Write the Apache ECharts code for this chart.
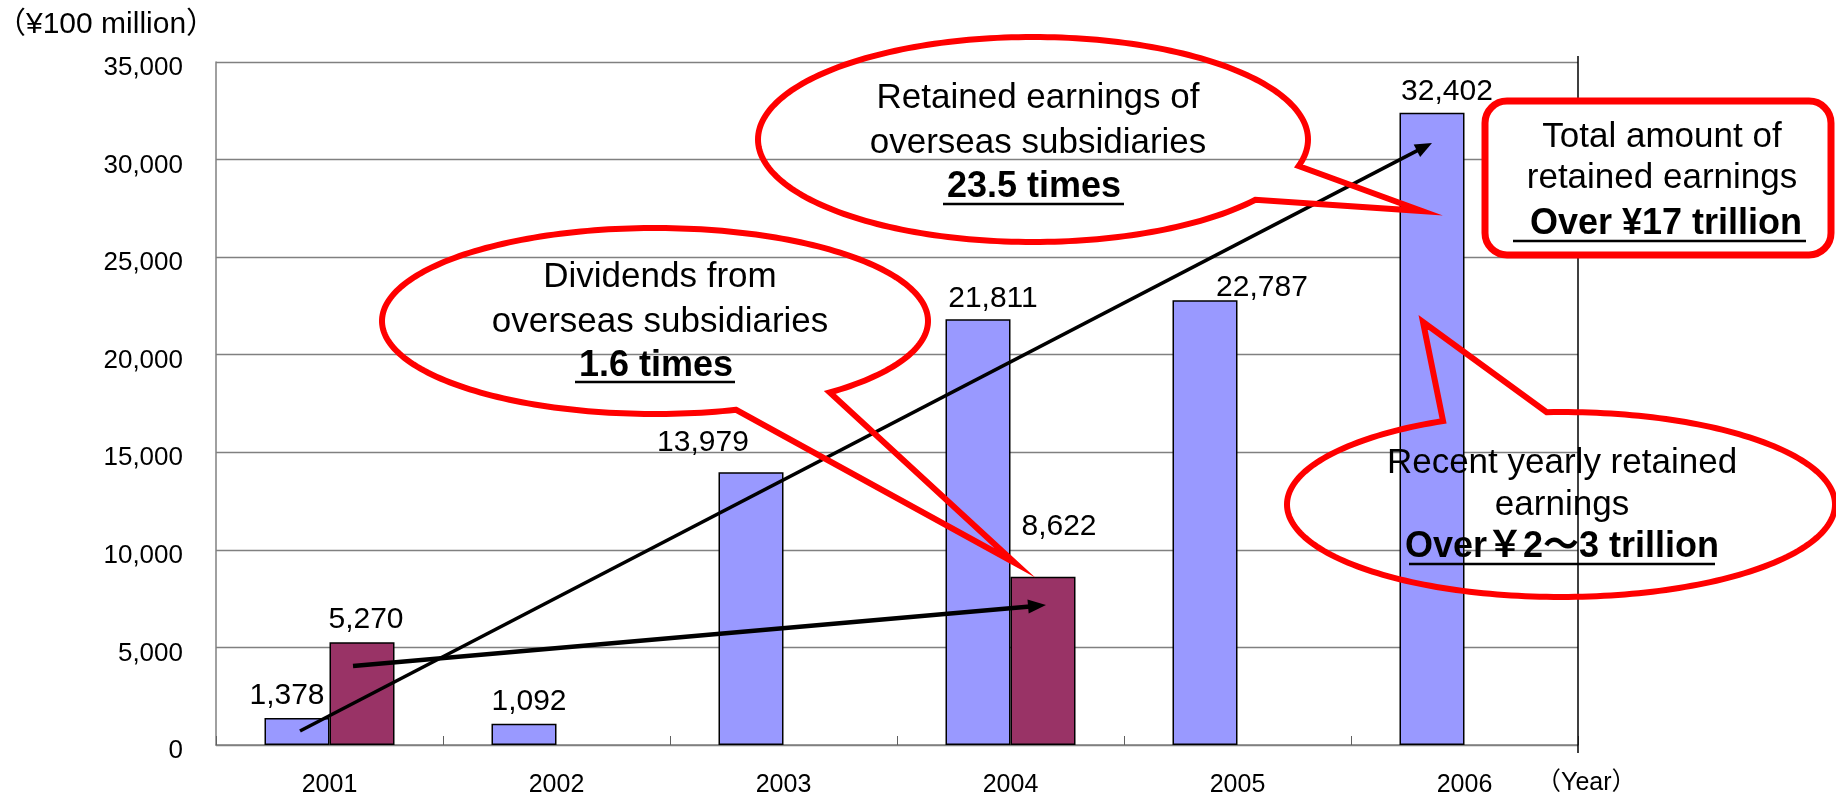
<!DOCTYPE html>
<html>
<head>
<meta charset="utf-8">
<script src="https://cdn.jsdelivr.net/npm/echarts@6/dist/echarts.min.js"></script>
<style>
  html, body { margin: 0; padding: 0; background: #fff; }
  #chart { width: 1836px; height: 800px; }
</style>
</head>
<body>
<div id="chart"></div>
<script>
// Overseas subsidiaries: retained earnings and dividends (¥100 million)
const years = ['2001', '2002', '2003', '2004', '2005', '2006'];
const retainedEarnings = [1378, 1092, 13979, 21811, 22787, 32402];
const dividends = [5270, null, null, 8622, null, null];
const yMin = 0, yMax = 35000, yStep = 5000;

// hand-placed value label nudges (px), per bar
const retainedLabelShift = [[-10, -2], [5, -2], [-48, -9], [15, -1], [57, 7], [15, -1]];
const dividendLabelShift = [[4, -2], null, null, [16, -30], null, null];

const FONT = '"Liberation Sans", Arial, "Noto Sans CJK JP", sans-serif';
const RED = '#ff0000';

const fmt = v => Number(v).toLocaleString('en-US');

function withShift(values, shifts) {
  return values.map((v, i) => {
    if (v == null) return null;
    const s = shifts[i];
    return s ? { value: v, label: { offset: s } } : v;
  });
}

// ellipse outline with a pointed tail, as a closed polygon
function balloon(cx, cy, rx, ry, fromDeg, toDeg, tip) {
  const pts = [];
  for (let a = fromDeg; a <= toDeg + 0.001; a += 1.5) {
    const t = a * Math.PI / 180;
    pts.push([cx + rx * Math.cos(t), cy + ry * Math.sin(t)]);
  }
  pts.push(tip);
  return {
    type: 'polygon', z: 60,
    shape: { points: pts },
    style: { fill: 'none', stroke: RED, lineWidth: 6, lineJoin: 'miter' }
  };
}

function arrow(x1, y1, x2, y2, w, len, half) {
  const dx = x2 - x1, dy = y2 - y1, d = Math.hypot(dx, dy);
  const ux = dx / d, uy = dy / d;
  const bx = x2 - ux * len, by = y2 - uy * len;
  return [
    { type: 'line', z: 55, shape: { x1: x1, y1: y1, x2: bx + ux * 2, y2: by + uy * 2 },
      style: { stroke: '#000', lineWidth: w } },
    { type: 'polygon', z: 55,
      shape: { points: [[x2, y2], [bx - uy * half, by + ux * half], [bx + uy * half, by - ux * half]] },
      style: { fill: '#000' } }
  ];
}

function txt(text, x, y, size, bold, align) {
  return {
    type: 'text', z: 70,
    style: {
      text: text, x: x, y: y,
      fontFamily: FONT, fontSize: size, fontWeight: bold ? 'bold' : 'normal',
      fill: '#000',
      textAlign: align || 'center', textVerticalAlign: 'middle',
      align: align || 'center', verticalAlign: 'middle'
    }
  };
}

function underline(x1, x2, y) {
  return { type: 'line', z: 70, shape: { x1: x1, y1: y, x2: x2, y2: y },
           style: { stroke: '#000', lineWidth: 2.5 } };
}

const graphics = [
  // right frame line
  { type: 'line', z: 5, shape: { x1: 1578, y1: 56, x2: 1578, y2: 753 },
    style: { stroke: '#000', lineWidth: 1.5 } },

  // units
  txt('（¥100 million）', -4, 25, 30, false, 'left'),
  txt('（Year）', 1536, 783, 25, false, 'left'),

  // arrows
  ...arrow(300, 731, 1432, 143, 3.5, 17, 7),
  ...arrow(353, 666, 1046, 605, 4.5, 18, 7),

  // dividends balloon
  balloon(655, 321, 273, 93, 72.7, 411.5, [1015, 563]),
  txt('Dividends from', 660, 277, 35),
  txt('overseas subsidiaries', 660, 322, 35),
  txt('1.6 times', 656, 366, 36, true),
  underline(575, 735, 382),

  // retained earnings balloon
  balloon(1033, 139.5, 275, 102.5, 36, 376, [1422, 211]),
  txt('Retained earnings of', 1038, 98, 35),
  txt('overseas subsidiaries', 1038, 143, 35),
  txt('23.5 times', 1034, 187, 36, true),
  underline(943, 1124, 204),

  // total box
  { type: 'rect', z: 62,
    shape: { x: 1485, y: 101, width: 346, height: 154, r: 22 },
    style: { fill: '#fff', stroke: RED, lineWidth: 7 } },
  txt('Total amount of', 1662, 137, 35),
  txt('retained earnings', 1662, 178, 35),
  txt('Over ¥17 trillion', 1666, 224, 36, true),
  underline(1513, 1806, 241),

  // recent yearly balloon
  balloon(1561, 504.5, 274, 92.5, -93, 245, [1423, 322]),
  txt('Recent yearly retained', 1562, 463, 35),
  txt('earnings', 1562, 505, 35),
  txt('Over￥2～3 trillion', 1562, 547, 36, true),
  underline(1409, 1715, 564)
];

const chart = echarts.init(document.getElementById('chart'), null, { renderer: 'canvas' });

chart.setOption({
  backgroundColor: '#fff',
  animation: false,
  grid: { left: 216, right: 258, top: 62, bottom: 55, containLabel: false },
  xAxis: {
    type: 'category',
    data: years,
    boundaryGap: true,
    axisLine: { lineStyle: { color: '#808080', width: 1.5 } },
    axisTick: { show: true, inside: true, length: 9, lineStyle: { color: '#606060', width: 1 } },
    axisLabel: { color: '#000', fontFamily: FONT, fontSize: 25, margin: 28 },
    splitLine: { show: false }
  },
  yAxis: {
    type: 'value',
    min: yMin, max: yMax, interval: yStep,
    axisLine: { show: true, lineStyle: { color: '#808080', width: 1.5 } },
    axisTick: { show: false },
    axisLabel: {
      color: '#000', fontFamily: FONT, fontSize: 26, margin: 33,
      verticalAlign: 'top', lineHeight: 12,
      formatter: v => fmt(v)
    },
    splitLine: { show: true, lineStyle: { color: '#808080', width: 1.3 } }
  },
  series: [
    {
      name: 'Retained earnings',
      type: 'bar',
      data: withShift(retainedEarnings, retainedLabelShift),
      barWidth: 65,
      barGap: '0%',
      itemStyle: { color: '#9999ff', borderColor: '#000', borderWidth: 1.5 },
      label: {
        show: true, position: 'top', distance: 5,
        color: '#000', fontFamily: FONT, fontSize: 30,
        formatter: p => fmt(p.value)
      }
    },
    {
      name: 'Dividends',
      type: 'bar',
      data: withShift(dividends, dividendLabelShift),
      barWidth: 65,
      barGap: '0%',
      itemStyle: { color: '#993366', borderColor: '#000', borderWidth: 1.5 },
      label: {
        show: true, position: 'top', distance: 5,
        color: '#000', fontFamily: FONT, fontSize: 30,
        formatter: p => fmt(p.value)
      }
    }
  ],
  graphic: graphics
});
</script>
</body>
</html>
